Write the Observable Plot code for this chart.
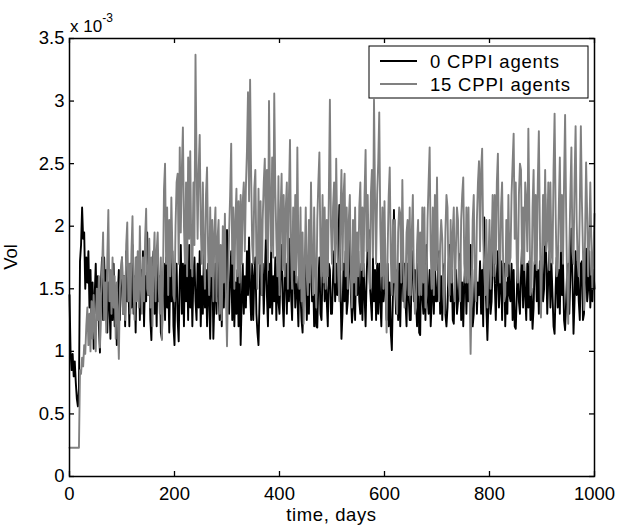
<!DOCTYPE html>
<html>
<head>
<meta charset="utf-8">
<script src="https://cdn.jsdelivr.net/npm/d3@7"></script>
<script src="https://cdn.jsdelivr.net/npm/@observablehq/plot@0.6"></script>
<style>
  html, body { margin: 0; padding: 0; background: #fff; }
  svg { display: block; }
</style>
</head>
<body>
<div id="chart"></div>
<script>
// ---- data (values in units of 1e-3), one value every 2 days from day 0 to 1000 ----
const dayStep = 2;
const vol0 = [
  1.45, 1.0, 0.85, 0.98, 0.8, 0.92, 0.75, 0.62, 0.56, 0.7, 1.72, 1.85, 2.15, 1.9, 1.95, 1.5, 1.75, 1.55, 1.8, 1.35, 1.65, 1.25, 1.55, 1.02, 1.45,
  1.7, 1.3, 1.6, 1.2, 0.99, 1.55, 1.75, 1.25, 1.75, 1.4, 1.65, 1.15, 1.55, 1.4, 1.1, 1.6, 1.25, 1.7, 1.2, 1.5, 1.05, 1.45, 1.65, 1.25, 1.6,
  1.75, 1.3, 1.6, 1.2, 1.8, 1.4, 1.65, 1.2, 1.7, 1.35, 1.85, 1.3, 1.6, 1.15, 1.75, 1.45, 1.7, 1.25, 1.65, 1.35, 1.8, 1.2, 1.6, 1.4, 1.95,
  1.45, 1.7, 1.25, 1.09, 1.55, 1.8, 1.3, 1.65, 1.2, 1.8, 1.4, 1.6, 1.15, 1.1, 1.55, 1.7, 1.25, 1.75, 1.35, 1.6, 1.15, 1.7, 1.4, 1.8, 1.2,
  1.05, 1.55, 1.7, 1.25, 1.08, 1.6, 1.85, 1.3, 1.7, 1.2, 1.75, 1.4, 1.7, 1.25, 1.85, 1.35, 1.65, 1.2, 1.6, 1.75, 1.4, 1.25, 1.7, 1.35, 1.8,
  1.2, 1.6, 1.3, 1.8, 1.35, 1.65, 1.2, 1.7, 1.4, 1.1, 1.6, 1.75, 1.1, 1.4, 1.7, 1.3, 1.9, 1.45, 1.25, 1.7, 1.2, 1.6, 1.35, 1.8, 1.45,
  1.97, 1.55, 1.3, 1.6, 1.8, 1.25, 1.7, 1.2, 1.55, 1.3, 1.65, 1.2, 1.7, 1.05, 1.4, 1.7, 1.3, 1.6, 1.35, 1.8, 1.45, 1.91, 1.5, 1.25, 1.7,
  1.25, 1.6, 1.75, 1.3, 1.15, 1.05, 1.4, 1.8, 1.45, 1.7, 1.3, 1.6, 1.9, 1.45, 1.2, 1.7, 1.35, 1.8, 1.3, 1.6, 1.4, 1.75, 1.25, 1.7, 1.4,
  1.3, 1.65, 1.85, 1.4, 1.2, 1.6, 1.7, 1.3, 1.75, 1.4, 1.9, 1.45, 1.25, 1.7, 1.8, 1.35, 1.6, 1.45, 1.2, 1.7, 1.45, 1.25, 1.15, 1.6, 1.7,
  1.7, 1.25, 1.55, 1.3, 1.75, 1.85, 1.4, 1.6, 1.2, 1.45, 1.2, 1.19, 1.55, 1.75, 1.3, 1.25, 1.65, 1.85, 1.4, 1.6, 1.4, 1.2, 1.7, 1.65, 1.3,
  1.3, 1.6, 1.8, 1.4, 1.7, 1.45, 1.85, 2.17, 1.55, 1.1, 1.3, 1.7, 1.4, 1.8, 1.3, 1.4, 1.7, 1.9, 1.45, 1.23, 1.35, 1.65, 1.25, 1.7, 1.45,
  1.8, 1.4, 1.3, 1.7, 1.25, 1.7, 1.45, 1.2, 1.6, 1.85, 1.97, 1.55, 1.4, 1.25, 1.75, 1.4, 1.65, 1.25, 1.7, 1.3, 1.7, 1.4, 1.2, 1.65, 1.4,
  1.8, 1.45, 1.25, 1.7, 1.2, 1.55, 1.15, 1.01, 1.45, 2.13, 1.6, 1.3, 1.65, 1.25, 1.7, 1.2, 1.6, 1.85, 1.4, 1.7, 1.4, 1.2, 1.7, 1.45, 1.25,
  1.25, 1.7, 1.8, 1.4, 1.65, 1.4, 1.2, 1.7, 1.15, 1.13, 1.75, 1.45, 1.3, 1.7, 1.25, 1.85, 1.45, 1.3, 1.65, 1.2, 1.4, 1.75, 1.3, 1.65, 1.4,
  1.4, 1.7, 1.8, 1.3, 1.6, 1.25, 1.65, 1.7, 1.3, 1.2, 1.35, 1.7, 1.85, 1.4, 1.65, 1.25, 1.22, 1.55, 1.65, 1.3, 1.4, 1.7, 1.78, 1.25, 1.55,
  1.2, 1.55, 1.72, 1.3, 1.65, 1.4, 1.7, 1.85, 1.4, 1.2, 1.3, 1.65, 1.7, 1.3, 1.55, 1.45, 1.72, 1.3, 1.65, 1.2, 2.07, 1.6, 1.35, 1.09, 1.4,
  1.7, 1.3, 1.4, 1.7, 1.95, 1.55, 1.25, 1.6, 1.8, 1.35, 1.5, 1.72, 1.25, 1.7, 1.7, 1.2, 1.55, 1.3, 1.82, 1.45, 1.4, 1.7, 1.25, 1.65, 1.2,
  1.18, 1.45, 1.75, 1.4, 1.3, 1.6, 1.85, 1.35, 1.7, 1.45, 1.25, 1.7, 1.35, 1.72, 1.25, 1.5, 1.18, 1.35, 1.7, 1.8, 1.4, 1.65, 1.3, 1.72, 1.4,
  1.72, 1.4, 1.5, 2.26, 1.75, 1.3, 1.6, 1.8, 1.35, 1.7, 1.45, 1.2, 1.14, 1.5, 1.75, 1.35, 1.65, 1.3, 1.85, 1.45, 1.7, 1.25, 1.17, 1.4, 1.65,
  1.7, 1.3, 1.6, 1.98, 1.6, 1.14, 1.4, 1.8, 1.45, 1.72, 1.4, 1.25, 1.7, 1.72, 1.25, 1.3, 1.6, 1.82, 1.4, 1.5, 1.8, 1.35, 1.6, 1.4, 1.65,
  1.5
];
const vol15 = [
  0.23, 0.23, 0.23, 0.23, 0.23, 0.23, 0.23, 0.23, 0.23, 0.23, 0.85, 0.82, 0.95, 0.88, 1.05, 0.98, 1.2, 1.35, 1.05, 1.3, 1.0, 1.4, 1.1, 1.45, 1.15,
  1.0, 1.5, 1.25, 1.6, 1.03, 1.45, 1.65, 1.95, 1.25, 1.55, 1.15, 1.75, 2.13, 1.4, 1.65, 1.3, 1.75, 1.35, 1.6, 1.1, 1.55, 1.25, 0.94, 1.5, 1.65,
  1.75, 1.3, 1.6, 1.25, 1.85, 2.03, 1.4, 1.7, 1.3, 1.8, 2.08, 1.5, 1.25, 1.75, 1.4, 1.8, 1.35, 2.0, 1.5, 1.3, 1.75, 1.4, 1.9, 2.14, 1.5,
  1.45, 1.9, 1.35, 1.75, 1.2, 1.7, 1.95, 1.4, 1.8, 1.95, 1.5, 1.3, 1.75, 1.09, 1.55, 2.3, 2.5, 1.7, 2.15, 1.45, 2.05, 1.6, 2.23, 1.8, 1.45,
  1.4, 2.0, 2.35, 2.42, 1.7, 2.63, 1.95, 2.45, 2.79, 2.0, 1.7, 2.35, 1.6, 2.55, 1.9, 2.6, 1.8, 1.6, 2.35, 1.85, 3.37, 2.5, 1.9, 2.45, 2.73,
  2.0, 1.7, 2.35, 1.8, 1.5, 2.25, 2.47, 1.8, 1.45, 2.15, 1.6, 2.05, 1.4, 1.95, 2.15, 1.4, 1.9, 2.05, 1.3, 1.85, 1.25, 2.0, 1.55, 2.1, 1.45,
  1.04, 1.55, 1.95, 2.25, 2.66, 1.7, 2.15, 1.5, 2.05, 2.3, 1.6, 2.2, 1.55, 2.25, 1.7, 2.2, 2.35, 1.8, 2.31, 2.6, 3.07, 2.2, 3.17, 2.4, 1.85,
  1.7, 2.3, 2.45, 1.75, 1.5, 2.3, 1.7, 2.2, 1.45, 2.05, 2.35, 2.54, 1.9, 2.45, 1.65, 3.0, 2.2, 1.8, 2.55, 1.75, 3.06, 2.3, 1.9, 1.6, 2.4,
  1.45, 2.1, 2.42, 1.65, 2.25, 1.6, 2.15, 2.35, 1.5, 2.25, 2.69, 1.8, 1.5, 2.15, 1.65, 2.25, 1.55, 2.63, 1.8, 1.5, 2.15, 1.4, 1.95, 1.22, 1.7,
  2.15, 1.6, 1.45, 2.05, 1.55, 2.35, 1.7, 1.45, 2.15, 1.6, 1.35, 2.05, 2.35, 2.59, 1.8, 1.6, 2.25, 1.55, 2.15, 1.5, 2.05, 1.6, 2.25, 3.01, 2.0,
  1.7, 2.15, 2.35, 1.55, 2.54, 1.9, 1.6, 1.4, 2.05, 2.45, 1.65, 2.25, 2.42, 1.6, 2.15, 1.5, 2.05, 2.25, 1.6, 1.35, 2.05, 1.55, 2.15, 1.45, 1.95,
  1.6, 2.15, 2.35, 1.65, 2.15, 1.6, 2.25, 2.61, 1.8, 2.25, 1.75, 1.5, 2.25, 2.45, 1.75, 3.01, 2.2, 1.7, 2.25, 2.5, 2.91, 2.0, 1.6, 2.15, 1.5,
  2.2, 1.6, 1.15, 1.8, 2.25, 2.47, 1.75, 1.45, 2.05, 1.55, 2.05, 1.45, 1.3, 1.95, 2.15, 2.1, 1.55, 2.37, 1.75, 1.35, 1.5, 1.95, 2.05, 1.45, 2.15,
  1.45, 1.95, 2.25, 1.55, 1.3, 1.35, 1.85, 2.05, 1.45, 1.95, 1.45, 2.15, 1.55, 2.15, 1.35, 1.45, 2.05, 2.35, 2.63, 1.8, 1.5, 2.15, 1.45, 2.25, 1.65,
  2.39, 1.7, 1.4, 1.85, 2.05, 1.9, 1.45, 1.3, 1.95, 2.25, 2.15, 1.55, 1.45, 2.05, 1.55, 1.95, 2.15, 1.4, 1.8, 2.15, 2.05, 1.55, 1.4, 2.05, 2.25,
  2.39, 1.7, 1.55, 2.15, 1.55, 2.15, 1.5, 0.98, 1.45, 2.05, 2.25, 1.6, 1.4, 2.05, 2.35, 2.52, 1.8, 2.45, 2.62, 1.9, 1.65, 1.45, 2.05, 1.35, 1.7,
  2.05, 1.5, 1.85, 2.25, 1.6, 2.25, 1.7, 2.35, 2.58, 1.8, 1.55, 2.15, 2.35, 1.7, 1.4, 1.45, 2.05, 1.6, 2.25, 1.7, 1.75, 2.25, 2.5, 2.74, 1.9,
  2.35, 1.7, 1.55, 2.25, 2.5, 2.45, 1.7, 2.15, 1.65, 2.35, 2.2, 1.8, 2.78, 2.1, 1.45, 1.5, 2.15, 2.45, 1.7, 2.25, 1.65, 2.35, 2.76, 1.95, 1.27,
  1.7, 2.25, 1.85, 2.45, 1.8, 1.9, 2.35, 1.65, 2.35, 1.8, 1.7, 2.45, 2.9, 2.1, 1.6, 1.65, 2.15, 2.55, 1.8, 2.25, 1.7, 2.35, 2.89, 2.1, 1.5,
  1.22, 1.8, 2.25, 2.63, 1.8, 1.7, 2.35, 2.8, 2.05, 1.7, 1.6, 2.15, 2.8, 2.2, 1.8, 1.33, 1.9, 2.51, 2.1, 1.6, 1.9, 2.35, 1.85, 1.5, 1.8,
  2.1
];
const seriesNames = ["0 CPPI agents", "15 CPPI agents"];
const seriesColors = ["#000000", "#808080"];
const xTicks = [0, 200, 400, 600, 800, 1000];
const yTicks = [0, 0.5, 1, 1.5, 2, 2.5, 3, 3.5];
const xLabel = "time, days";
const yLabel = "Vol";

// ---- build tables ----
const toRows = (vals, name) => vals.map((v, i) => ({day: i * dayStep, vol: v, series: name}));
const rows0 = toRows(vol0, seriesNames[0]);
const rows15 = toRows(vol15, seriesNames[1]);

const FONT = "'Liberation Sans', Arial, Helvetica, sans-serif";

const chart = Plot.plot({
  width: 619,
  height: 525,
  marginLeft: 69,
  marginRight: 25,
  marginTop: 38,
  marginBottom: 49,
  style: {fontFamily: FONT, fontSize: "18.5px", background: "#fff", color: "#000", overflow: "visible"},
  x: {domain: [0, 1000]},
  y: {domain: [0, 3.5]},
  marks: [
    Plot.line(rows0, {x: "day", y: "vol", stroke: seriesColors[0], strokeWidth: 1.9, curve: "linear"}),
    Plot.line(rows15, {x: "day", y: "vol", stroke: seriesColors[1], strokeWidth: 1.9, curve: "linear"}),
    Plot.frame({stroke: "#000", strokeWidth: 1.5}),
    Plot.ruleX(xTicks, {x: d => d, y1: 0, y2: 0, insetTop: -5, stroke: "#000", strokeWidth: 1.3}),
    Plot.ruleX(xTicks, {x: d => d, y1: 3.5, y2: 3.5, insetBottom: -5, stroke: "#000", strokeWidth: 1.3}),
    Plot.ruleY(yTicks, {y: d => d, x1: 0, x2: 0, insetRight: -5, stroke: "#000", strokeWidth: 1.3}),
    Plot.ruleY(yTicks, {y: d => d, x1: 1000, x2: 1000, insetLeft: -5, stroke: "#000", strokeWidth: 1.3}),
    Plot.axisX({ticks: xTicks, anchor: "bottom", tickSize: 0, tickPadding: 10, label: null, tickFormat: d => String(d)}),
    Plot.axisY({ticks: yTicks, anchor: "left", tickSize: 0, tickPadding: 5, label: null, tickFormat: d => String(d)})
  ]
});

document.getElementById("chart").appendChild(chart);

// ---- extra text: axis labels, exponent, legend ----
const svg = d3.select(chart);
const g = svg.append("g").attr("font-family", FONT).attr("fill", "#000");

// exponent
const mult = g.append("text").attr("x", 70).attr("y", 32).attr("font-size", 17).attr("text-anchor", "start");
mult.append("tspan").text("x 10");
mult.append("tspan").attr("dy", -10).attr("font-size", 12).text("-3");

// x label
g.append("text").attr("x", 331.5).attr("y", 521).attr("text-anchor", "middle")
  .attr("font-size", 18.5).style("letter-spacing", "0.6px").text(xLabel);

// y label
g.append("text").attr("transform", "translate(17,257) rotate(-90)").attr("text-anchor", "middle")
  .attr("font-size", 18.5).text(yLabel);

// legend
const lg = g.append("g");
lg.append("rect").attr("x", 369).attr("y", 46).attr("width", 219).attr("height", 52)
  .attr("fill", "#fff").attr("stroke", "#000").attr("stroke-width", 1);
seriesNames.forEach((name, i) => {
  const yy = 61 + i * 23;
  lg.append("line").attr("x1", 380).attr("x2", 417).attr("y1", yy).attr("y2", yy)
    .attr("stroke", seriesColors[i]).attr("stroke-width", 1.9);
  lg.append("text").attr("x", 430).attr("y", yy + 6.5).attr("font-size", 18.5)
    .attr("text-anchor", "start")
    .style("letter-spacing", "0.8px").text(name);
});
</script>
</body>
</html>
